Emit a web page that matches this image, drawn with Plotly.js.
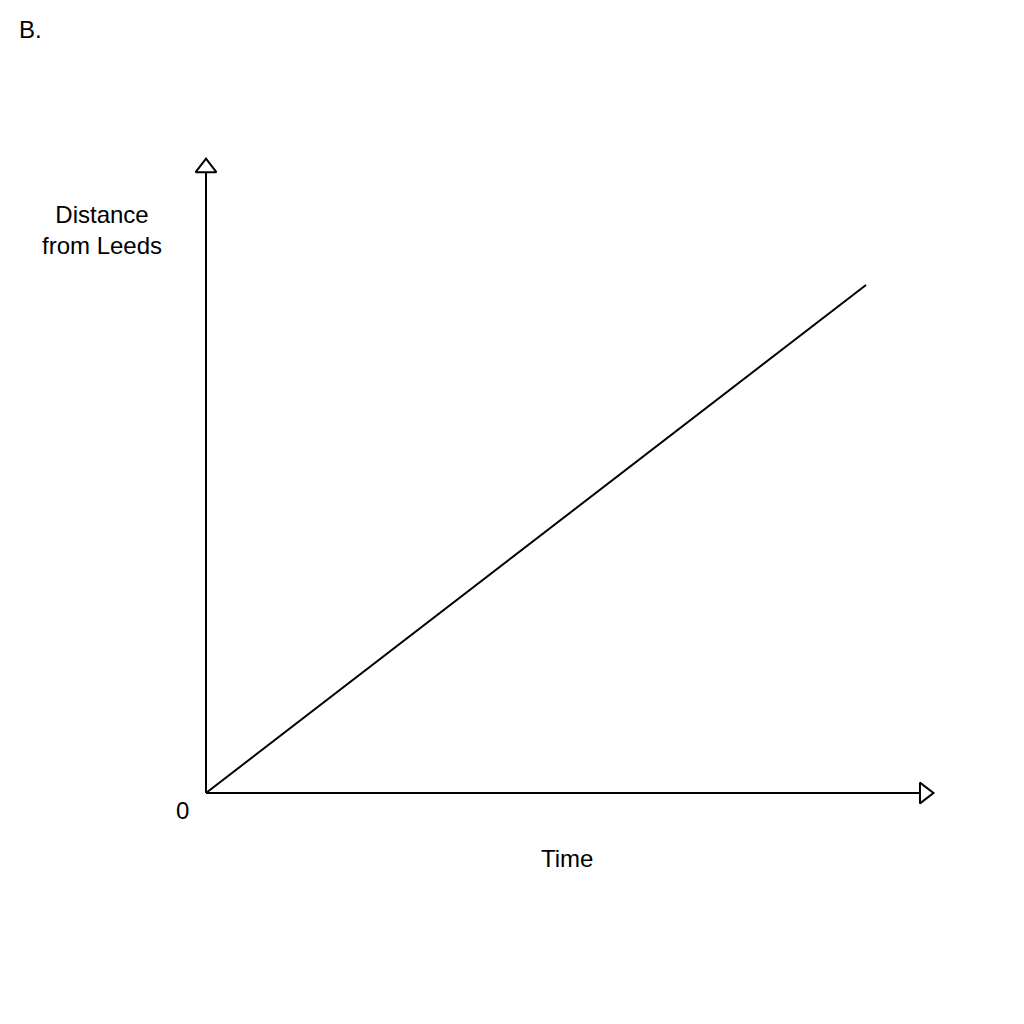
<!DOCTYPE html>
<html>
<head>
<meta charset="utf-8">
<script src="https://cdn.plot.ly/plotly-3.0.1.min.js"></script>
<style>
  html, body { margin: 0; padding: 0; background: #fff; }
  #chart { width: 1024px; height: 1024px; }
</style>
</head>
<body>
<div id="chart"></div>
<script>
// travel line: distance from Leeds grows steadily with time
var time = [0, 10];
var distance = [0, 10];

// where the two axes stop, and their open arrow heads
var axisEndX = 10.82;
var axisEndY = 12.22;
var arrowX = [10.886, 0];
var arrowY = [0, 12.308];
var arrowSymbols = ['triangle-right-open', 'triangle-up-open'];

var labelFont = { family: 'Liberation Sans, Arial, sans-serif', size: 24, color: '#000000' };

var traces = [
    {
        // time axis
        x: [0, axisEndX],
        y: [0, 0],
        mode: 'lines',
        type: 'scatter',
        line: { color: '#000000', width: 2 },
        hoverinfo: 'skip'
    },
    {
        // distance axis
        x: [0, 0],
        y: [0, axisEndY],
        mode: 'lines',
        type: 'scatter',
        line: { color: '#000000', width: 2 },
        hoverinfo: 'skip'
    },
    {
        x: time,
        y: distance,
        mode: 'lines',
        type: 'scatter',
        line: { color: '#000000', width: 2 },
        hoverinfo: 'skip'
    },
    {
        x: arrowX,
        y: arrowY,
        mode: 'markers',
        type: 'scatter',
        cliponaxis: false,
        marker: {
            symbol: arrowSymbols,
            size: 18,
            color: '#000000',
            line: { color: '#000000', width: 2 }
        },
        hoverinfo: 'skip'
    }
];

var layout = {
    width: 1024,
    height: 1024,
    margin: { l: 203, r: 79, t: 150, b: 228 },
    paper_bgcolor: '#ffffff',
    plot_bgcolor: '#ffffff',
    showlegend: false,
    xaxis: {
        range: [-0.0455, 11.197],
        showgrid: false,
        zeroline: false,
        showticklabels: false,
        ticks: '',
        showline: false
    },
    yaxis: {
        range: [-0.059, 12.657],
        showgrid: false,
        zeroline: false,
        showticklabels: false,
        ticks: '',
        showline: false
    },
    annotations: [
        { text: '0', x: -0.0283, y: -0.0217, xref: 'paper', yref: 'paper',
          showarrow: false, font: labelFont, xanchor: 'center', yanchor: 'middle' },
        { text: 'Time', x: 0.4906, y: -0.0960, xref: 'paper', yref: 'paper',
          showarrow: false, font: labelFont, xanchor: 'center', yanchor: 'middle' },
        { text: 'Distance<br>from Leeds', x: -0.1361, y: 0.8754, xref: 'paper', yref: 'paper',
          showarrow: false, font: labelFont, xanchor: 'center', yanchor: 'middle', align: 'center' },
        { text: 'B.', x: -0.2507, y: 1.1858, xref: 'paper', yref: 'paper',
          showarrow: false, font: labelFont, xanchor: 'left', yanchor: 'middle' }
    ]
};

Plotly.newPlot('chart', traces, layout, { staticPlot: true });
</script>
</body>
</html>
